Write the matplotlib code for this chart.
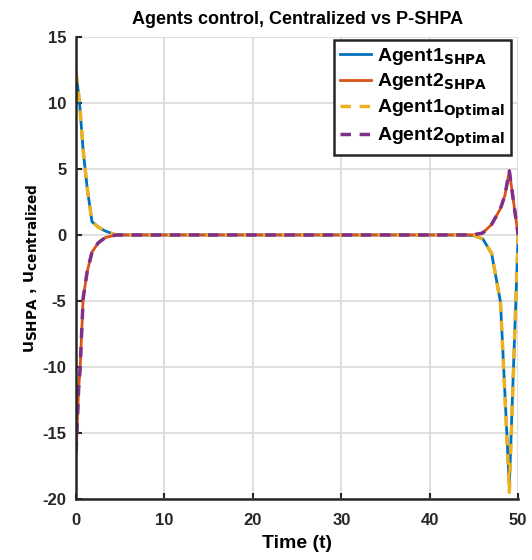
import numpy as np
import matplotlib.pyplot as plt

plt.rc('font', family='Liberation Sans', size=11, weight='bold')
plt.rcParams['axes.unicode_minus'] = False
plt.rcParams['mathtext.default'] = 'bf'

# time samples (non-uniform, denser where the controls move)
t = [0, 0.3, 0.45, 0.8, 1.25, 1.8, 2.5, 3.3, 4.5, 10, 20, 30, 40, 44, 45, 46, 47, 48, 48.5, 49, 49.5, 50]

a1_shpa = [12.3, 10.6, 9.5, 6.4, 3.6, 1.0, 0.6, 0.3, 0.0, 0, 0, 0, 0, 0, -0.05, -0.3, -1.4, -5.1, -12.0, -19.0, -9.5, 0]
a2_shpa = [-16.5, -11.5, -10.2, -4.8, -2.8, -1.3, -0.6, -0.2, 0.0, 0, 0, 0, 0, 0, 0.02, 0.15, 0.8, 2.0, 3.0, 4.85, 2.4, 0]
a1_opt = [12.3, 10.6, 9.5, 6.4, 3.6, 1.0, 0.6, 0.3, 0.0, 0, 0, 0, 0, 0, -0.05, -0.3, -1.4, -5.1, -12.2, -19.5, -9.8, 0]
a2_opt = [-16.5, -11.5, -10.2, -4.8, -2.8, -1.3, -0.6, -0.2, 0.0, 0, 0, 0, 0, 0, 0.02, 0.15, 0.8, 2.0, 3.0, 4.85, 2.4, 0]

fig = plt.figure(figsize=(5.32, 5.6), dpi=100)
ax = fig.add_axes([0.143, 0.109, 0.831, 0.825])

ax.plot(t, a1_shpa, color='#0072BD', lw=2, label=r'Agent1$_{\mathbf{SHPA}}$')
ax.plot(t, a2_shpa, color='#D95319', lw=2, label=r'Agent2$_{\mathbf{SHPA}}$')
ax.plot(t, a1_opt, color='#EDB120', lw=2.5, ls=(0, (3, 2.5)), label=r'Agent1$_{\mathbf{Optimal}}$')
ax.plot(t, a2_opt, color='#7E2F8E', lw=2.5, ls=(0, (3, 2.5)), label=r'Agent2$_{\mathbf{Optimal}}$')

ax.set_xlim(0, 50)
ax.set_ylim(-20, 15)
ax.set_xticks([0, 10, 20, 30, 40, 50])
ax.set_yticks([-20, -15, -10, -5, 0, 5, 10, 15])
ax.grid(True, color='#d9d9d9', lw=1.2)
ax.set_axisbelow(True)
for s in ['top', 'right']:
    ax.spines[s].set_visible(False)
for s in ['left', 'bottom']:
    ax.spines[s].set_linewidth(1.8)
    ax.spines[s].set_color('#262626')
ax.tick_params(direction='in', length=4, width=1.5, colors='#262626', labelsize=12, pad=7)
ax.tick_params(axis='x', pad=10)

ax.set_title('Agents control, Centralized vs P-SHPA', fontsize=13, fontweight='bold', pad=9)
ax.set_xlabel('Time (t)', fontsize=14, fontweight='bold', labelpad=5)
ax.set_ylabel(r'u$_{\mathbf{SHPA}}$ , u$_{\mathbf{centralized}}$', fontsize=14, fontweight='bold', labelpad=2)

leg = ax.legend(loc='upper right', fontsize=14, handlelength=1.6, handletextpad=0.3,
                labelspacing=0.25, borderpad=0.3, fancybox=False, framealpha=1,
                bbox_to_anchor=(1.005, 1.015))
leg.get_frame().set_edgecolor('#262626')
leg.get_frame().set_linewidth(1.8)

plt.savefig('out.png', dpi=100)
